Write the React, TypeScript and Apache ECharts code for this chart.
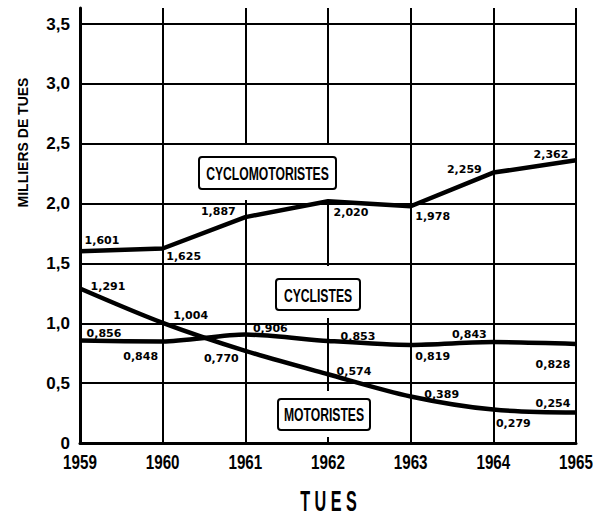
import React, { useEffect, useRef } from 'react';
import * as echarts from 'echarts';

// ---- data ----
const years = ['1959', '1960', '1961', '1962', '1963', '1964', '1965'];
const cyclomotoristes = [1.601, 1.625, 1.887, 2.02, 1.978, 2.259, 2.362];
const cyclistes = [0.856, 0.848, 0.906, 0.853, 0.819, 0.843, 0.828];
const motoristes = [1.291, 1.004, 0.77, 0.574, 0.389, 0.279, 0.254];
const seriesNames = ['CYCLOMOTORISTES', 'CYCLISTES', 'MOTORISTES'];
const yAxisTitle = 'MILLIERS DE TUES';
const xAxisTitle = 'T U E S';

// ---- label placement (offsets from each point, px) ----
const cmOffsets = [[22, -11], [21, 8], [-27, -6], [23, 11], [22, 10], [-29, -3], [-25, -6]];
const cyOffsets = [[24, -7], [-22, 15], [25, -6], [30, -4], [22, 12], [-24, -8], [-23, 21]];
const moOffsets = [[28, -2], [28, -7], [-24, 8], [26, -3], [31, -2], [20, 14], [-23, -9]];

const SANS = '"Liberation Sans", Arial, sans-serif';
const LABEL_FONT = '"DejaVu Sans", "Liberation Sans", sans-serif';

const fmt = (v: number) => v.toFixed(3).replace('.', ',');

function buildSeries(name: string, values: number[], offsets: number[][], smooth: number | boolean) {
  return {
    name,
    type: 'line',
    data: values.map((v, i) => ({ value: v, label: { offset: offsets[i] } })),
    smooth,
    symbol: 'circle',
    symbolSize: 1,
    itemStyle: { color: '#000' },
    lineStyle: { color: '#000', width: 4.5 },
    z: 3,
    label: {
      show: true,
      position: 'inside',
      formatter: (p: any) => fmt(p.value),
      color: '#000',
      fontFamily: LABEL_FONT,
      fontWeight: 'bold',
      fontSize: 11,
    },
  };
}

function boxText(text: string, cx: number, cy: number) {
  return {
    type: 'text',
    z: 2,
    x: cx,
    y: cy,
    scaleX: 0.64,
    silent: true,
    style: {
      text,
      font: 'bold 19px ' + SANS,
      fill: '#000',
      textAlign: 'center',
      textVerticalAlign: 'middle',
    },
  };
}

function box(x: number, y: number, w: number, h: number) {
  return {
    type: 'rect',
    z: 2,
    silent: true,
    shape: { x, y, width: w, height: h, r: 3 },
    style: { fill: '#fff', stroke: '#000', lineWidth: 2 },
  };
}

function mask(x: number, y: number, w: number, h: number) {
  return {
    type: 'rect',
    z: 1,
    silent: true,
    shape: { x, y, width: w, height: h },
    style: { fill: '#fff' },
  };
}

export default function App() {
  const ref = useRef<HTMLDivElement>(null);

  useEffect(() => {
    if (!ref.current) return;
    const chart = echarts.init(ref.current, null, { renderer: 'svg' });
    const baseGraphics: any[] = [
      mask(194, 145, 147, 55),
      mask(272, 266, 92, 52),
      mask(274, 391, 100, 46),
      box(199, 157, 137, 32),
      box(276, 279, 84, 31),
      box(278, 399, 92, 31),
      boxText(seriesNames[0], 267.5, 173),
      boxText(seriesNames[1], 318, 295),
      boxText(seriesNames[2], 324, 414.5),
      {
        type: 'text',
        z: 2,
        x: 22.5,
        y: 142.5,
        rotation: Math.PI / 2,
        silent: true,
        style: {
          text: yAxisTitle,
          font: 'bold 14px ' + SANS,
          fill: '#000',
          textAlign: 'center',
          textVerticalAlign: 'middle',
        },
      },
      {
        type: 'text',
        z: 2,
        x: 328.5,
        y: 500,
        scaleX: 0.54,
        silent: true,
        style: {
          text: xAxisTitle,
          font: 'bold 30px ' + SANS,
          fill: '#000',
          textAlign: 'center',
          textVerticalAlign: 'middle',
        },
      },
    ];
    chart.setOption({
      animation: false,
      backgroundColor: '#fff',
      grid: { left: 80, right: 17, top: 8, bottom: 74, containLabel: false, outerBoundsMode: 'none' },
      xAxis: {
        type: 'category',
        data: years,
        boundaryGap: false,
        axisLine: { lineStyle: { color: '#000', width: 3 } },
        axisTick: { show: false },
        axisLabel: { show: false },
        splitLine: { show: true, lineStyle: { color: '#000', width: 2 } },
      },
      yAxis: {
        type: 'value',
        min: 0,
        max: 3.634,
        interval: 0.5,
        axisLine: { show: true, lineStyle: { color: '#000', width: 3 } },
        axisTick: { show: false },
        axisLabel: {
          color: '#000',
          fontFamily: SANS,
          fontWeight: 'bold',
          fontSize: 17,
          margin: 10,
          showMaxLabel: false,
          formatter: (v: number) =>
            v > 3.5 + 1e-9 ? '' : v === 0 ? '0' : v.toFixed(1).replace('.', ','),
        },
        splitLine: { show: true, showMaxLine: false, lineStyle: { color: '#000', width: 2 } },
      },
      graphic: baseGraphics,
      series: [
        buildSeries(seriesNames[0], cyclomotoristes, cmOffsets, false),
        buildSeries(seriesNames[1], cyclistes, cyOffsets, 0.25),
        buildSeries(seriesNames[2], motoristes, moOffsets, 0.3),
      ],
    });

    // year tick labels, placed through the x axis scale (condensed look via scaleX)
    const yearLabels = years.map((yr, i) => {
      const pt = chart.convertToPixel({ gridIndex: 0 }, [i, 0]) as number[];
      return {
        type: 'text',
        z: 2,
        x: pt[0],
        y: pt[1] + 19.5,
        scaleX: 0.76,
        silent: true,
        style: {
          text: yr,
          font: 'bold 20px ' + SANS,
          fill: '#000',
          textAlign: 'center',
          textVerticalAlign: 'middle',
        },
      };
    });
    chart.setOption({ graphic: [...baseGraphics, ...yearLabels] });

    return () => chart.dispose();
  }, []);

  return (
    <div
      ref={ref}
      style={{ position: 'absolute', left: 0, top: 0, width: 593, height: 517, background: '#fff' }}
    />
  );
}
